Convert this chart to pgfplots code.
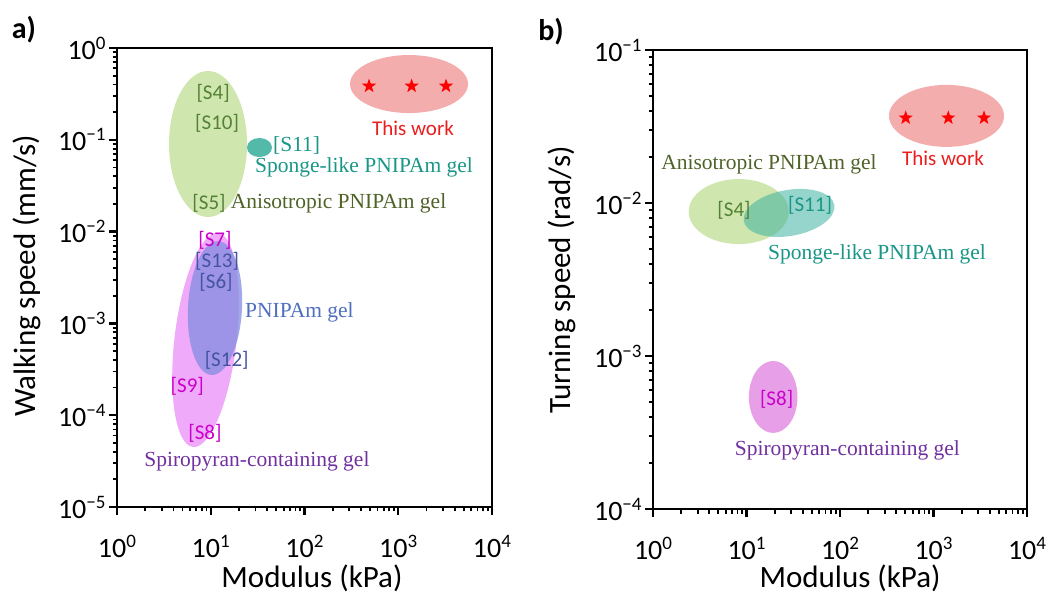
\documentclass[border=0pt]{standalone}
\usepackage{fontspec}
\setmainfont{Carlito}
\newfontfamily\tnr{Liberation Serif}
\usepackage{pgfplots}
\pgfplotsset{compat=1.18}

\definecolor{fGreen}{RGB}{169,209,110}
\definecolor{fTeal}{RGB}{64,178,160}
\definecolor{fRed}{RGB}{235,105,105}
\definecolor{fPink}{RGB}{225,100,245}
\definecolor{fBlue}{RGB}{130,140,225}
\definecolor{fPinkB}{RGB}{215,95,215}
\definecolor{tGreen}{RGB}{84,130,53}
\definecolor{tOlive}{RGB}{79,98,40}
\definecolor{tTeal}{RGB}{25,150,135}
\definecolor{tRed}{RGB}{235,30,30}
\definecolor{tMag}{RGB}{204,0,204}
\definecolor{tBlue}{RGB}{68,84,160}
\definecolor{tBlueB}{RGB}{79,110,190}
\definecolor{tPurple}{RGB}{112,48,160}

\pgfdeclareplotmark{fstar}{%
 \pgfpathmoveto{\pgfpointpolar{90}{\pgfplotmarksize}}%
 \pgfpathlineto{\pgfpointpolar{126}{0.4*\pgfplotmarksize}}%
 \pgfpathlineto{\pgfpointpolar{162}{\pgfplotmarksize}}%
 \pgfpathlineto{\pgfpointpolar{198}{0.4*\pgfplotmarksize}}%
 \pgfpathlineto{\pgfpointpolar{234}{\pgfplotmarksize}}%
 \pgfpathlineto{\pgfpointpolar{270}{0.4*\pgfplotmarksize}}%
 \pgfpathlineto{\pgfpointpolar{306}{\pgfplotmarksize}}%
 \pgfpathlineto{\pgfpointpolar{342}{0.4*\pgfplotmarksize}}%
 \pgfpathlineto{\pgfpointpolar{18}{\pgfplotmarksize}}%
 \pgfpathlineto{\pgfpointpolar{54}{0.4*\pgfplotmarksize}}%
 \pgfpathclose\pgfusepathqfill}

\newcommand\sups[1]{\raisebox{10pt}{\fontsize{19}{19}\selectfont #1}}
\newcommand\expo[1]{\pgfmathtruncatemacro{\ee}{round(#1)}10\sups{\ifnum\ee<0 −\the\numexpr-\ee\relax\else\ee\fi}}

\newcommand\calf{\fontsize{21}{24}\selectfont}
\newcommand\tms{\tnr\fontsize{21.5}{24}\selectfont}
% text label drawn as a text mark at a data point: font, anchor, colour, point, text
\newcommand\lab[5]{\addplot[only marks, mark=text, text mark={#5}, text mark as node=true,
  text mark style={font=#1, anchor=#2, inner sep=0pt, text=#3}, color=#3] coordinates {#4};}

\begin{document}
\begin{tikzpicture}
\useasboundingbox (0,0) rectangle (1049pt,594pt);

% ---------------- panel a ----------------
\begin{axis}[at={(117pt,87pt)}, anchor=south west,
  scale only axis, width=375pt, height=459pt,
  xmode=log, ymode=log, log basis x=10, log basis y=10,
  xmin=1, xmax=1e4, ymin=1e-5, ymax=1, clip=false,
  tick pos=left, tick align=outside,
  major tick length=8pt, minor tick length=4.5pt,
  major tick style={black, line width=2.4pt},
  minor tick style={black, line width=1.8pt},
  axis line style={line width=2.8pt},
  xticklabel={\expo{\tick}}, yticklabel={\expo{\tick}},
  ticklabel style={font=\fontsize{28}{30}\selectfont},
  xticklabel shift=17pt,
  label style={font=\fontsize{31}{34}\selectfont},
  xlabel={Modulus (kPa)}, ylabel={Walking speed (mm/s)},
  xlabel style={at={(axis description cs:0.52,-0.175)}, anchor=base, inner sep=0pt},
  ylabel style={at={(axis description cs:-0.24,0.504)}, anchor=center},
]
\addplot[only marks, mark=*, mark size=73pt, mark options={draw opacity=0, fill=fGreen, fill opacity=0.55, xscale=0.534}] coordinates {(9.35,0.090)};
\addplot[only marks, mark=*, mark size=9.5pt, mark options={draw opacity=0, fill=fTeal, fill opacity=0.9, xscale=1.316}] coordinates {(33.1,0.0824)};
\addplot[only marks, mark=*, mark size=29pt, mark options={draw opacity=0, fill=fRed, fill opacity=0.55, xscale=2.034}] coordinates {(1303,0.405)};
\addplot[only marks, mark=*, mark size=107.7pt, mark options={draw opacity=0, fill=fPink, fill opacity=0.55, rotate=-6.7, xscale=0.288}] coordinates {(8.79,6.59e-4)};
\addplot[only marks, mark=*, mark size=67pt, mark options={draw opacity=0, fill=fBlue, fill opacity=0.75, rotate=-3, xscale=0.403}] coordinates {(11.1,1.47e-3)};
\addplot[only marks, mark=fstar, mark size=7.5pt, red] coordinates {(488,0.385) (1390,0.385) (3230,0.385)};

\lab{\calf}{center}{tGreen}{(10.6,0.323)}{[S4]}
\lab{\calf}{center}{tGreen}{(11.7,0.152)}{[S10]}
\lab{\tms}{west}{tTeal}{(46.1,0.0862)}{[S11]}
\lab{\tms}{center}{tTeal}{(431,0.0497)}{Sponge-like PNIPAm gel}
\lab{\calf}{center}{tGreen}{(9.58,0.0203)}{[S5]}
\lab{\tms}{west}{tOlive}{(16.3,0.0203)}{Anisotropic PNIPAm gel}
\lab{\calf}{center}{tRed}{(1437,0.1334)}{This work}
\lab{\calf}{center}{tMag}{(11.1,8.1e-3)}{[S7]}
\lab{\calf}{center}{tBlue}{(11.7,4.7e-3)}{[S13]}
\lab{\calf}{center}{tBlue}{(11.4,2.78e-3)}{[S6]}
\lab{\tms}{west}{tBlueB}{(23.2,1.32e-3)}{PNIPAm gel}
\lab{\calf}{center}{tBlue}{(14.8,3.99e-4)}{[S12]}
\lab{\calf}{center}{tMag}{(5.62,2.04e-4)}{[S9]}
\lab{\calf}{center}{tMag}{(8.68,6.35e-5)}{[S8]}
\lab{\tms}{center}{tPurple}{(31.1,3.11e-5)}{Spiropyran-containing gel}
\end{axis}

% ---------------- panel b ----------------
\begin{axis}[at={(653pt,85pt)}, anchor=south west,
  scale only axis, width=374pt, height=459pt,
  xmode=log, ymode=log, log basis x=10, log basis y=10,
  xmin=1, xmax=1e4, ymin=1e-4, ymax=1e-1, clip=false,
  tick pos=left, tick align=outside,
  major tick length=8pt, minor tick length=4.5pt,
  major tick style={black, line width=2.4pt},
  minor tick style={black, line width=1.8pt},
  axis line style={line width=2.8pt},
  xticklabel={\expo{\tick}}, yticklabel={\expo{\tick}},
  ticklabel style={font=\fontsize{28}{30}\selectfont},
  xticklabel shift=17pt,
  label style={font=\fontsize{31}{34}\selectfont},
  xlabel={Modulus (kPa)}, ylabel={Turning speed (rad/s)},
  xlabel style={at={(axis description cs:0.527,-0.172)}, anchor=base, inner sep=0pt},
  ylabel style={at={(axis description cs:-0.243,0.499)}, anchor=center},
]
\addplot[only marks, mark=*, mark size=31pt, mark options={draw opacity=0, fill=fRed, fill opacity=0.55, xscale=1.855}] coordinates {(1377,0.0371)};
\addplot[only marks, mark=*, mark size=32.5pt, mark options={draw opacity=0, fill=fGreen, fill opacity=0.55, xscale=1.538}] coordinates {(8.25,8.79e-3)};
\addplot[only marks, mark=*, mark size=23pt, mark options={draw opacity=0, fill=fTeal, fill opacity=0.55, rotate=10, xscale=2}] coordinates {(28.5,8.61e-3)};
\addplot[only marks, mark=*, mark size=36pt, mark options={draw opacity=0, fill=fPinkB, fill opacity=0.6, xscale=0.675}] coordinates {(19.3,5.40e-4)};
\addplot[only marks, mark=fstar, mark size=7.5pt, red] coordinates {(504,0.036) (1440,0.036) (3470,0.036)};

\lab{\tms}{center}{tOlive}{(17.4,0.0180)}{Anisotropic PNIPAm gel}
\lab{\calf}{center}{tRed}{(1264,0.01968)}{This work}
\lab{\calf}{center}{tGreen}{(7.35,9.0e-3)}{[S4]}
\lab{\calf}{center}{tTeal}{(47.8,9.7e-3)}{[S11]}
\lab{\tms}{center}{tTeal}{(249,4.65e-3)}{Sponge-like PNIPAm gel}
\lab{\calf}{center}{tMag}{(21.0,5.24e-4)}{[S8]}
\lab{\tms}{center}{tPurple}{(120,2.40e-4)}{Spiropyran-containing gel}
\end{axis}

\node[font=\bfseries\fontsize{30}{32}\selectfont] at (24pt,564pt) {a)};
\node[font=\bfseries\fontsize{30}{32}\selectfont] at (551pt,562pt) {b)};
\end{tikzpicture}
\end{document}
